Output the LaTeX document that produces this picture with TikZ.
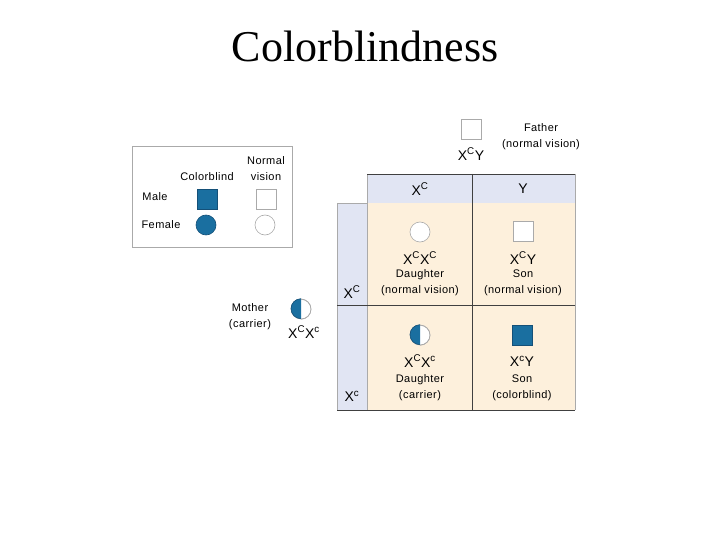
\documentclass[tikz,border=0pt]{standalone}
\usepackage{fontspec}
\setmainfont{Liberation Sans}
\newfontfamily\titlefont{Liberation Serif}
\newfontfamily\smallfont[LetterSpace=4]{Liberation Sans}
\definecolor{cbblue}{RGB}{26,111,160}
\definecolor{cbedge}{RGB}{20,80,120}
\definecolor{hdrfill}{RGB}{225,229,243}
\definecolor{cellfill}{RGB}{253,240,220}
\definecolor{lgray}{RGB}{170,170,170}
\begin{document}
\begin{tikzpicture}[x=1pt,y=-1pt,
  small/.style={font=\smallfont\fontsize{11}{16}\selectfont, align=center, inner sep=0pt},
  geno/.style={font=\fontsize{14}{16}\selectfont, inner sep=0pt},
  bsq/.style={draw=cbedge, fill=cbblue, minimum size=20pt, inner sep=0pt, line width=0.6pt},
  wsq/.style={draw=lgray, fill=white, minimum size=20pt, inner sep=0pt, line width=0.6pt},
  bci/.style={circle, draw=cbedge, fill=cbblue, minimum size=20pt, inner sep=0pt, line width=0.6pt},
  wci/.style={circle, draw=lgray, fill=white, minimum size=20pt, inner sep=0pt, line width=0.6pt},
  darkline/.style={draw=black!75, line width=0.8pt},
  lightline/.style={draw=lgray, line width=0.6pt}]
\useasboundingbox (0,0) rectangle (720,540);
% title
\node[font=\titlefont\fontsize{44}{50}\selectfont, inner sep=0pt] (title) at (365,46) {Colorblindness};
% legend
\draw[lightline] (132,146) rectangle (292,247);
\node[small] (lcb) at (207,177) {Colorblind};
\node[small] (lnv) at (266,169) {Normal\\vision};
\node[small] (lmale) at (155,197) {Male};
\node[small] (lfem) at (161,225) {Female};
\node[bsq] (lsq1) at (207,199) {};
\node[wsq] (lsq2) at (266,199) {};
\node[bci] (lci1) at (206,225) {};
\node[wci] (lci2) at (265,225) {};
% father
\node[wsq] (fsq) at (471,129) {};
\node[geno] (fgeno) at (471,154) {X\textsuperscript{C}Y};
\node[small] (flab) at (541,137) {Father\\(normal vision)};
% mother
\node[wci] (mci) at (301,309) {};
\fill[cbblue] (mci.north) arc[start angle=90, end angle=270, radius=10pt] -- cycle;
\draw[cbedge, line width=0.6pt] (mci.north) arc[start angle=90, end angle=270, radius=10pt];
\draw[lgray, line width=0.6pt] (mci.south) arc[start angle=-90, end angle=90, radius=10pt];
\node[small] (mlab) at (250,317) {Mother\\(carrier)};
\node[geno] (mgeno) at (304,332) {X\textsuperscript{C}X\textsuperscript{c}};
% table fills
\fill[hdrfill] (367,174) rectangle (575,203);
\fill[hdrfill] (337,203) rectangle (367,410);
\fill[cellfill] (367,203) rectangle (575,410);
% table lines
\draw[lightline] (337,203) -- (367,203);
\draw[lightline] (337,203) -- (337,410);
\draw[lightline] (367,174) -- (367,410);
\draw[lightline] (575,174) -- (575,410);
\draw[darkline] (367,174) -- (575,174);
\draw[darkline] (472,174) -- (472,410);
\draw[darkline] (337,305) -- (575,305);
\draw[darkline] (337,410) -- (575,410);
% headers
\node[geno] (h1) at (420,189) {X\textsuperscript{C}};
\node[geno] (h2) at (523,189) {Y};
\node[geno] (r1) at (352,292) {X\textsuperscript{C}};
\node[geno] (r2) at (352,396) {X\textsuperscript{c}};
% cell 1
\node[wci] (c1s) at (420,232) {};
\node[geno] (c1g) at (420,258) {X\textsuperscript{C}X\textsuperscript{C}};
\node[small] (c1t) at (420,283) {Daughter\\(normal vision)};
% cell 2
\node[wsq] (c2s) at (523,231) {};
\node[geno] (c2g) at (523,258) {X\textsuperscript{C}Y};
\node[small] (c2t) at (523,283) {Son\\(normal vision)};
% cell 3
\node[wci] (c3s) at (420,335) {};
\fill[cbblue] (c3s.north) arc[start angle=90, end angle=270, radius=10pt] -- cycle;
\draw[cbedge, line width=0.6pt] (c3s.north) arc[start angle=90, end angle=270, radius=10pt];
\draw[lgray, line width=0.6pt] (c3s.south) arc[start angle=-90, end angle=90, radius=10pt];
\node[geno] (c3g) at (420,361) {X\textsuperscript{C}X\textsuperscript{c}};
\node[small] (c3t) at (420,388) {Daughter\\(carrier)};
% cell 4
\node[bsq] (c4s) at (522,335) {};
\node[geno] (c4g) at (522,361) {X\textsuperscript{c}Y};
\node[small] (c4t) at (522,388) {Son\\(colorblind)};
\end{tikzpicture}
\end{document}
